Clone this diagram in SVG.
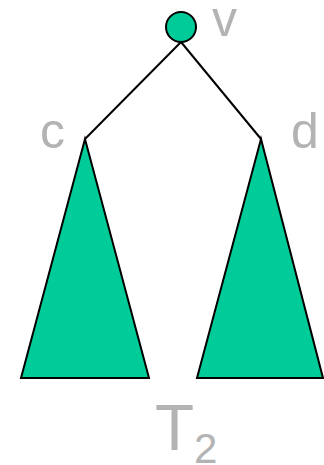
<svg xmlns="http://www.w3.org/2000/svg" width="324" height="465" viewBox="0 0 324 465">
<style>
.shape{fill:#00CC99;stroke:#000;stroke-width:2;stroke-linejoin:miter}
.edge{stroke:#000;stroke-width:2;fill:none}
.lbl{font-family:"Liberation Sans",Arial,sans-serif;fill:#B3B3B3}
</style>
<rect width="324" height="465" fill="#fff"/>
<g id="connectors">
<line class="edge" x1="181" y1="42" x2="85" y2="139"/>
<line class="edge" x1="181" y1="42" x2="261" y2="139"/>
</g>
<g id="node-v">
<circle class="shape" cx="181" cy="27" r="15"/>
<text class="lbl" x="212" y="36" font-size="50">v</text>
</g>
<g id="node-c">
<polygon class="shape" points="85,139 21,378 149,378"/>
<text class="lbl" x="40" y="148" font-size="50">c</text>
</g>
<g id="node-d">
<polygon class="shape" points="261,139 197,378 323,378"/>
<text class="lbl" x="291" y="148" font-size="50">d</text>
</g>
<g id="label-T2">
<text class="lbl" x="155" y="450" font-size="64">T<tspan font-size="42" dy="13">2</tspan></text>
</g>
</svg>
